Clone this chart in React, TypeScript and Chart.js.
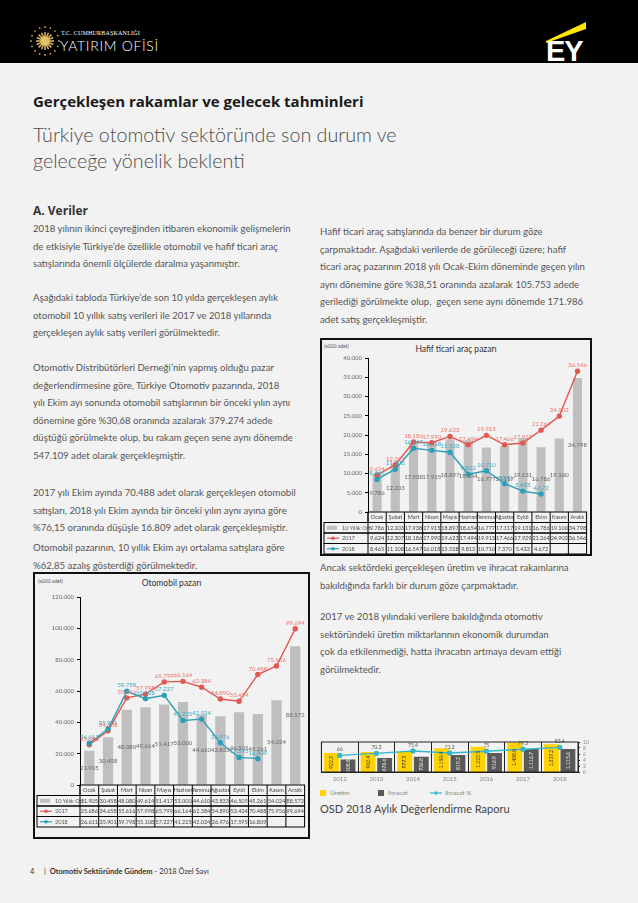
import React, { useEffect, useRef } from 'react';
import { Chart, registerables } from 'chart.js';

Chart.register(...registerables);

// ---------------- DATA ----------------
const MONTHS = ['Ocak', 'Şubat', 'Mart', 'Nisan', 'Mayıs', 'Haziran', 'Temmuz', 'Ağustos', 'Eylül', 'Ekim', 'Kasım', 'Aralık'];
const SERIES_NAMES = ['10 Yıllık Ort.', '2017', '2018'];

const CAR_AVG = [21905, 30458, 48080, 49614, 51417, 53000, 44610, 43833, 46505, 45261, 54024, 88572];
const CAR_2017 = [25686, 34658, 55616, 57998, 65799, 66164, 62384, 54890, 53424, 70488, 75956, 99694];
const CAR_2018 = [26611, 35901, 59798, 55108, 57227, 41225, 42024, 26976, 17595, 16809, null, null];
const CAR_MAX = 120000;
const CAR_STEP = 20000;

const LCV_AVG = [9786, 12203, 17938, 17915, 18897, 18654, 16777, 17117, 19131, 16786, 19100, 34798];
const LCV_2017 = [9624, 12307, 18186, 17990, 19623, 17494, 19913, 17466, 17929, 21264, 24902, 36546];
const LCV_2018 = [8465, 11108, 16547, 16018, 15528, 9812, 10710, 7370, 5433, 4672, null, null];
const LCV_MAX = 40000;
const LCV_STEP = 5000;

const YEARS = ['2012', '2013', '2014', '2015', '2016', '2017', '2018'];
const PRODUCTION = [922.3, 962.4, 977.5, 1150.4, 1222.5, 1408.0, 1337.2];
const EXPORTS = [608.8, 676.6, 736.8, 819.2, 916.9, 1116.7, 1115.6];
const EXPORT_SHARE = [66, 70.3, 75.4, 71.2, 75, 79.3, 83.4];
const SHARE_AXIS_MAX = 10;
const SHARE_AXIS_STEP = 2;

// ---------------- HELPERS ----------------
const RED = '#e2574f';
const TEAL = '#2a9fb8';
const BAR_GRAY = '#bfbfbf';
const FONT = 'Lato, "Open Sans", sans-serif';

const fmtInt = (v: number) => String(Math.round(v)).replace(/\B(?=(\d{3})+(?!\d))/g, '.');
const fmtDec = (v: number) => {
  const [i, d] = v.toFixed(1).split('.');
  return fmtInt(Number(i)) + '.' + d;
};

// value labels plugin
const valueLabels = {
  id: 'valueLabels',
  afterDatasetsDraw(chart: any, _a: any, opts: any) {
    if (!opts || !opts.enabled) return;
    const ctx = chart.ctx;
    ctx.save();
    ctx.font = `${opts.size}px ${FONT}`;
    ctx.textAlign = 'center';
    ctx.textBaseline = 'middle';
    chart.data.datasets.forEach((ds: any, di: number) => {
      const mode = ds.labelMode;
      if (!mode) return;
      const meta = chart.getDatasetMeta(di);
      meta.data.forEach((el: any, i: number) => {
        const v = ds.data[i];
        if (v == null) return;
        const text = opts.format(v);
        ctx.fillStyle = ds.labelColor;
        if (mode === 'barCenter') {
          ctx.fillText(text, el.x, (el.y + el.base) / 2);
        } else if (mode === 'above') {
          ctx.fillText(text, el.x, el.y - 6);
        } else if (mode === 'barRot') {
          ctx.save();
          ctx.translate(el.x, (el.y + el.base) / 2);
          ctx.rotate(-Math.PI / 2);
          ctx.fillText(text, 0, 0);
          ctx.restore();
        }
      });
    });
    ctx.restore();
  },
};

// data table plugin
const dataTable = {
  id: 'dataTable',
  afterDraw(chart: any, _a: any, opts: any) {
    if (!opts || !opts.rows) return;
    const { ctx, chartArea } = chart;
    const xs = chart.scales.x;
    const cols: string[] = chart.data.labels;
    const n = cols.length;
    const cw = (chartArea.right - chartArea.left) / n;
    const top = chartArea.bottom + (opts.gap || 0);
    const rh = opts.rowHeight;
    const L = opts.left;
    const R = chartArea.right;
    const nRows = opts.rows.length;
    ctx.save();
    ctx.lineWidth = opts.lineWidth || 1;
    ctx.strokeStyle = '#000';
    ctx.font = `${opts.size}px ${FONT}`;
    ctx.textBaseline = 'middle';
    ctx.textAlign = 'center';
    ctx.fillStyle = '#444';
    ctx.strokeRect(chartArea.left, top, R - chartArea.left, rh);
    cols.forEach((c, i) => ctx.fillText(c, xs.getPixelForValue(i), top + rh / 2));
    opts.rows.forEach((di: number, ri: number) => {
      const ds = chart.data.datasets[di];
      const y = top + rh * (ri + 1);
      ctx.strokeRect(L, y, R - L, rh);
      ctx.fillStyle = '#444';
      ctx.textAlign = 'center';
      ds.data.forEach((v: any, i: number) => {
        if (v == null) return;
        ctx.fillText(fmtInt(v), xs.getPixelForValue(i), y + rh / 2);
      });
      const kx = L + 3;
      const ky = y + rh / 2;
      if (ds.type === 'bar') {
        ctx.fillStyle = ds.backgroundColor;
        ctx.fillRect(kx, ky - 2, 10, 4);
      } else {
        ctx.strokeStyle = ds.borderColor;
        ctx.lineWidth = 1.2;
        ctx.beginPath();
        ctx.moveTo(kx, ky);
        ctx.lineTo(kx + 12, ky);
        ctx.stroke();
        ctx.fillStyle = ds.borderColor;
        ctx.beginPath();
        ctx.arc(kx + 6, ky, 1.8, 0, Math.PI * 2);
        ctx.fill();
        ctx.strokeStyle = '#000';
        ctx.lineWidth = opts.lineWidth || 1;
      }
      ctx.fillStyle = '#555';
      ctx.textAlign = 'left';
      ctx.fillText(ds.label, kx + 15, ky);
    });
    ctx.beginPath();
    for (let i = 0; i < n; i++) {
      const x = chartArea.left + i * cw;
      ctx.moveTo(x, top);
      ctx.lineTo(x, top + rh * (nRows + 1));
    }
    ctx.stroke();
    ctx.restore();
  },
};

// border around chart area
const areaBorder = {
  id: 'areaBorder',
  afterDraw(chart: any, _a: any, opts: any) {
    if (!opts || !opts.color) return;
    const { ctx, chartArea } = chart;
    ctx.save();
    ctx.strokeStyle = opts.color;
    ctx.lineWidth = opts.width || 1;
    ctx.strokeRect(chartArea.left, chartArea.top, chartArea.right - chartArea.left, chartArea.bottom - chartArea.top);
    ctx.restore();
  },
};

Chart.register(valueLabels, dataTable, areaBorder);

type ComboOpts = {
  avg: number[];
  s2017: (number | null)[];
  s2018: (number | null)[];
  max: number;
  step: number;
  padTop: number;
  padBottom: number;
  padRight: number;
  axisW: number;
  barPct: number;
};

function comboConfig(p: ComboOpts): any {
  return {
    type: 'bar',
    data: {
      labels: MONTHS,
      datasets: [
        { type: 'line', label: SERIES_NAMES[2], data: p.s2018, borderColor: TEAL, backgroundColor: TEAL, borderWidth: 1.4, pointRadius: 2, pointHoverRadius: 2, labelMode: 'above', labelColor: '#3aa9c2', order: 0, spanGaps: false },
        { type: 'line', label: SERIES_NAMES[1], data: p.s2017, borderColor: RED, backgroundColor: RED, borderWidth: 1.4, pointRadius: 2, pointHoverRadius: 2, labelMode: 'above', labelColor: '#e8766e', order: 1 },
        { type: 'bar', label: SERIES_NAMES[0], data: p.avg, backgroundColor: BAR_GRAY, barPercentage: p.barPct, categoryPercentage: 1, labelMode: 'barCenter', labelColor: '#666', order: 2 },
      ],
    },
    options: {
      animation: false,
      responsive: true,
      maintainAspectRatio: false,
      layout: { padding: { top: p.padTop, bottom: p.padBottom, left: 0, right: p.padRight } },
      plugins: {
        legend: { display: false },
        title: { display: false },
        tooltip: { enabled: false },
        valueLabels: { enabled: true, size: 6, format: fmtInt },
        dataTable: { rows: [2, 1, 0], rowHeight: 10.5, gap: 0, left: 2, size: 5.5, lineWidth: 1 },
      },
      scales: {
        x: { display: false },
        y: {
          min: 0,
          max: p.max,
          ticks: { stepSize: p.step, callback: (v: number) => fmtInt(v), font: { size: 6, family: FONT }, color: '#666', padding: 3 },
          grid: { drawOnChartArea: false, drawTicks: true, tickLength: 3, color: '#000' },
          border: { display: true, color: '#000', width: 1 },
          afterFit: (s: any) => { s.width = p.axisW; },
        },
      },
    },
  };
}

function ComboChart(props: ComboOpts) {
  const ref = useRef<HTMLCanvasElement>(null);
  useEffect(() => {
    const chart = new Chart(ref.current as HTMLCanvasElement, comboConfig(props));
    return () => chart.destroy();
  }, []);
  return <canvas ref={ref} />;
}

function TradeChart() {
  const ref = useRef<HTMLCanvasElement>(null);
  useEffect(() => {
    const cfg: any = {
      type: 'bar',
      data: {
        labels: YEARS,
        datasets: [
          { type: 'line', label: 'İhracat %', data: EXPORT_SHARE, yAxisID: 'yPct', borderColor: '#38b6cc', backgroundColor: '#38b6cc', borderWidth: 1.4, pointRadius: 2, labelMode: 'above', labelColor: '#555', order: 0 },
          { type: 'bar', label: 'Üretim', data: PRODUCTION, yAxisID: 'y', backgroundColor: '#ffd200', barPercentage: 0.9, categoryPercentage: 0.9, labelMode: 'barRot', labelColor: '#333', order: 1 },
          { type: 'bar', label: 'İhracat', data: EXPORTS, yAxisID: 'y', backgroundColor: '#595959', barPercentage: 0.9, categoryPercentage: 0.9, labelMode: 'barRot', labelColor: '#eee', order: 2 },
        ],
      },
      options: {
        animation: false,
        responsive: true,
        maintainAspectRatio: false,
        layout: { padding: { top: 6, left: 4, right: 0, bottom: 0 } },
        plugins: {
          legend: { display: false },
          tooltip: { enabled: false },
          valueLabels: { enabled: true, size: 5, format: (v: number) => (v > 100 ? fmtDec(v) : String(v)) },
          areaBorder: { color: '#222', width: 1 },
        },
        scales: {
          x: {
            grid: { display: true, offset: true, color: '#222', drawTicks: false },
            border: { color: '#222' },
            ticks: { font: { size: 6, family: FONT }, color: '#888', padding: 3 },
            afterFit: (s: any) => { s.height = 14; },
          },
          y: { display: false, min: 0, max: 1450 },
          yPct: { display: false, min: 30, max: 95 },
          y2: {
            position: 'right',
            min: 0,
            max: SHARE_AXIS_MAX,
            ticks: { stepSize: SHARE_AXIS_STEP, autoSkip: false, font: { size: 5, family: FONT }, color: '#888', padding: 3 },
            grid: { drawOnChartArea: false, drawTicks: true, tickLength: 2, color: '#222' },
            border: { color: '#222' },
            afterFit: (s: any) => { s.width = 22; },
          },
        },
      },
    };
    const chart = new Chart(ref.current as HTMLCanvasElement, cfg);
    return () => chart.destroy();
  }, []);
  return <canvas ref={ref} />;
}

// ---------------- TEXT ----------------
const LEFT_PARAS: { top: number; lines: string[] }[] = [
  { top: 220, lines: ['2018 yılının ikinci çeyreğinden itibaren ekonomik gelişmelerin', 'de etkisiyle Türkiye’de özellikle otomobil ve hafif ticari araç', 'satışlarında önemli ölçülerde daralma yaşanmıştır.'] },
  { top: 289, lines: ['Aşağıdaki tabloda Türkiye’de son 10 yılda gerçekleşen aylık', 'otomobil 10 yıllık satış verileri ile 2017 ve 2018 yıllarında', 'gerçekleşen aylık satış verileri görülmektedir.'] },
  { top: 359, lines: ['Otomotiv Distribütörleri Derneği’nin yapmış olduğu pazar', 'değerlendirmesine göre, Türkiye Otomotiv pazarında, 2018', 'yılı Ekim ayı sonunda otomobil satışlarının bir önceki yılın aynı', 'dönemine göre %30,68 oranında azalarak 379.274 adede', 'düştüğü görülmekte olup, bu rakam geçen sene aynı dönemde', '547.109 adet olarak gerçekleşmiştir.'] },
  { top: 484, lines: ['2017 yılı Ekim ayında 70.488 adet olarak gerçekleşen otomobil', 'satışları, 2018 yılı Ekim ayında bir önceki yılın aynı ayına göre', '%76,15 oranında düşüşle 16.809 adet olarak gerçekleşmiştir.'] },
  { top: 539, lines: ['Otomobil pazarının, 10 yıllık Ekim ayı ortalama satışlara göre', '%62,85 azalış gösterdiği görülmektedir.'] },
];
const RIGHT_PARAS: { top: number; lines: string[] }[] = [
  { top: 223, lines: ['Hafif ticari araç satışlarında da benzer bir durum göze', 'çarpmaktadır. Aşağıdaki verilerde de görüleceği üzere; hafif', 'ticari araç pazarının 2018 yılı Ocak-Ekim döneminde geçen yılın', 'aynı dönemine göre %38,51 oranında azalarak 105.753 adede', 'gerilediği görülmekte olup,  geçen sene aynı dönemde 171.986', 'adet satış gerçekleşmiştir.'] },
  { top: 559, lines: ['Ancak sektördeki gerçekleşen üretim ve ihracat rakamlarına', 'bakıldığında farklı bir durum göze çarpmaktadır.'] },
  { top: 608, lines: ['2017 ve 2018 yılındaki verilere bakıldığında otomotiv', 'sektöründeki üretim miktarlarının ekonomik durumdan', 'çok da etkilenmediği, hatta ihracatın artmaya devam ettiği', 'görülmektedir.'] },
];

const LINE_H = 17.6;
const textStyle: React.CSSProperties = { position: 'absolute', fontFamily: FONT, fontSize: 9.6, color: '#555', lineHeight: `${LINE_H}px`, whiteSpace: 'pre' };

function Para({ left, top, lines }: { left: number; top: number; lines: string[] }) {
  return (
    <div style={{ ...textStyle, left, top }}>
      {lines.map((l, i) => (
        <div key={i}>{l}</div>
      ))}
    </div>
  );
}

function Emblem() {
  const stars = Array.from({ length: 16 }, (_, i) => {
    const a = (i / 16) * Math.PI * 2;
    return <circle key={i} cx={17 + 14 * Math.cos(a)} cy={17 + 14 * Math.sin(a)} r={0.9} fill="#c9a14a" />;
  });
  const rays = Array.from({ length: 16 }, (_, i) => {
    const a = (i / 16) * Math.PI * 2;
    return <line key={i} x1={17} y1={17} x2={17 + 9 * Math.cos(a)} y2={17 + 9 * Math.sin(a)} stroke="#d8b25a" strokeWidth={1.6} />;
  });
  return (
    <svg width={34} height={34} style={{ position: 'absolute', left: 28, top: 24 }}>
      {stars}
      {rays}
      <circle cx={17} cy={17} r={4.5} fill="#e2c26c" />
    </svg>
  );
}

export default function App() {
  useEffect(() => {
    document.body.style.margin = '0';
    document.body.style.background = '#f2f2f2';
  }, []);
  return (
    <div style={{ position: 'relative', width: 638, height: 903, background: '#f2f2f2', overflow: 'hidden', fontFamily: FONT }}>
      {/* header */}
      <div style={{ position: 'absolute', left: 0, top: 0, width: 638, height: 63, background: '#000' }}>
        <Emblem />
        <div style={{ position: 'absolute', left: 61, top: 30, color: '#fff', fontSize: 6, fontFamily: '"Liberation Serif", serif', letterSpacing: 0.2 }}>T.C. CUMHURBAŞKANLIĞI</div>
        <div style={{ position: 'absolute', left: 60, top: 37, color: '#fff', fontSize: 14, fontFamily: FONT, fontWeight: 300, letterSpacing: 0.7 }}>YATIRIM OFİSİ</div>
        <svg width={50} height={50} style={{ position: 'absolute', left: 542, top: 14 }}>
          <polygon points="4,27 44,8 44,15 4,29" fill="#ffe600" />
        </svg>
        <div style={{ position: 'absolute', left: 546, top: 37, color: '#fff', fontSize: 29, fontWeight: 700, fontFamily: '"Liberation Sans Narrow", "Liberation Sans", sans-serif', lineHeight: '28px', letterSpacing: -1 }}>EY</div>
      </div>

      {/* headings */}
      <div style={{ position: 'absolute', left: 33, top: 91, fontSize: 15, fontWeight: 700, color: '#1a1a1a', fontFamily: '"Open Sans", sans-serif' }}>Gerçekleşen rakamlar ve gelecek tahminleri</div>
      <div style={{ position: 'absolute', left: 33, top: 122, fontSize: 19.7, fontWeight: 300, color: '#4d4d4d', lineHeight: '26px' }}>
        <div>Türkiye otomotiv sektöründe son durum ve</div>
        <div>geleceğe yönelik beklenti</div>
      </div>
      <div style={{ position: 'absolute', left: 33, top: 202, fontSize: 12, fontWeight: 700, color: '#333', fontFamily: '"Open Sans", sans-serif' }}>A. Veriler</div>

      {LEFT_PARAS.map((p, i) => (
        <Para key={'l' + i} left={33} top={p.top} lines={p.lines} />
      ))}
      {RIGHT_PARAS.map((p, i) => (
        <Para key={'r' + i} left={320} top={p.top} lines={p.lines} />
      ))}

      {/* LCV chart */}
      <div style={{ position: 'absolute', left: 320, top: 338, width: 268, height: 214, border: '2px solid #111' }}>
        <div style={{ position: 'absolute', left: 2, top: 3, fontSize: 5, color: '#555' }}>(x000 adet)</div>
        <div style={{ position: 'absolute', left: 0, width: 268, top: 4, textAlign: 'center', fontSize: 8.5, color: '#333' }}>Hafif ticari araç pazarı</div>
        <div style={{ position: 'absolute', left: 0, top: 0, width: 268, height: 214 }}>
          <ComboChart avg={LCV_AVG} s2017={LCV_2017} s2018={LCV_2018} max={LCV_MAX} step={LCV_STEP} padTop={18} padBottom={42} padRight={2} axisW={46} barPct={0.5} />
        </div>
      </div>

      {/* Car chart */}
      <div style={{ position: 'absolute', left: 33, top: 572, width: 273, height: 263, border: '2px solid #111' }}>
        <div style={{ position: 'absolute', left: 3, top: 4, fontSize: 5, color: '#555' }}>(x000 adet)</div>
        <div style={{ position: 'absolute', left: 0, width: 273, top: 4, textAlign: 'center', fontSize: 8.5, color: '#333' }}>Otomobil pazarı</div>
        <div style={{ position: 'absolute', left: 0, top: 0, width: 273, height: 258 }}>
          <ComboChart avg={CAR_AVG} s2017={CAR_2017} s2018={CAR_2018} max={CAR_MAX} step={CAR_STEP} padTop={23} padBottom={47} padRight={2} axisW={45} barPct={0.55} />
        </div>
      </div>

      {/* Trade chart */}
      <div style={{ position: 'absolute', left: 316, top: 736, width: 284, height: 50 }}>
        <TradeChart />
      </div>
      <div style={{ position: 'absolute', left: 320, top: 789, fontSize: 6.5, color: '#888', display: 'flex', alignItems: 'center' }}>
        <span style={{ display: 'inline-block', width: 6, height: 6, background: '#ffd200', marginRight: 4 }} />
        <span style={{ width: 48 }}>Üretim</span>
        <span style={{ display: 'inline-block', width: 6, height: 6, background: '#595959', marginRight: 4 }} />
        <span style={{ width: 42 }}>İhracat</span>
        <svg width={12} height={6} style={{ marginRight: 3 }}>
          <line x1={0} y1={3} x2={12} y2={3} stroke="#38b6cc" strokeWidth={1.2} />
          <circle cx={6} cy={3} r={1.8} fill="#38b6cc" />
        </svg>
        <span>İhracat %</span>
      </div>
      <div style={{ position: 'absolute', left: 320, top: 802, fontSize: 11, color: '#444' }}>OSD 2018 Aylık Değerlendirme Raporu</div>

      {/* footer */}
      <div style={{ position: 'absolute', left: 30, top: 867, fontSize: 7.5, color: '#333', whiteSpace: 'pre' }}>
        <span>4     |  </span>
        <span style={{ fontWeight: 700 }}>Otomotiv Sektöründe Gündem</span>
        <span> - 2018 Özel Sayı</span>
      </div>
    </div>
  );
}
